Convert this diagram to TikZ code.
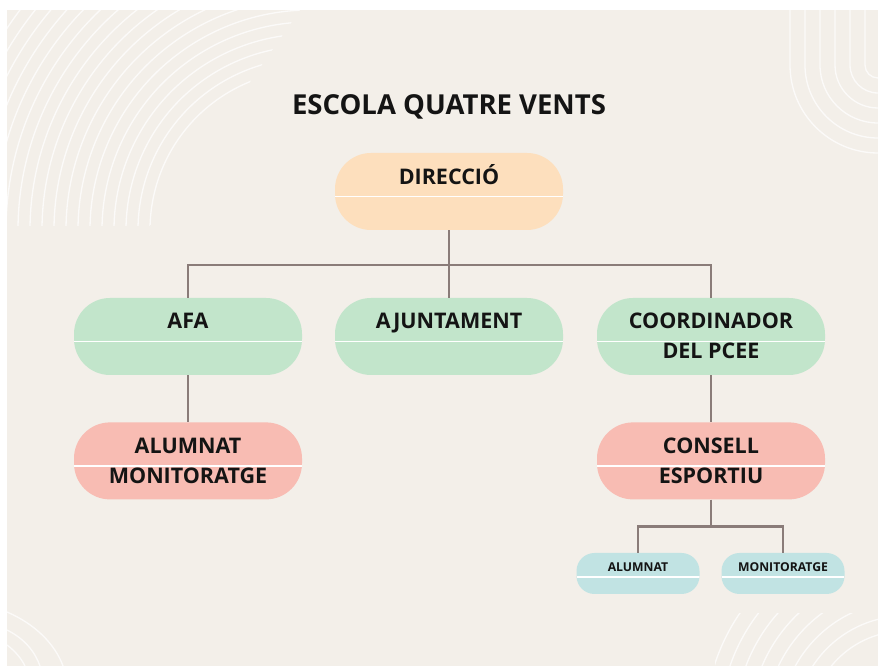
\documentclass[tikz,border=0pt]{standalone}
\usepackage{fontspec}
\setmainfont{Open Sans}
\usetikzlibrary{positioning}
\definecolor{paper}{HTML}{F3EFE9}
\definecolor{peach}{HTML}{FDDFBD}
\definecolor{mint}{HTML}{C2E5CB}
\definecolor{salmon}{HTML}{F8BCB3}
\definecolor{aqua}{HTML}{C1E3E3}
\definecolor{ink}{HTML}{141414}
\definecolor{linkgrey}{HTML}{8A7C79}

\begin{document}
\begin{tikzpicture}[x=1pt,y=1pt,
  box/.style={fill=#1,rounded corners=36pt,minimum width=228pt,minimum height=77pt,inner sep=0pt,
    path picture={\draw[white,line width=1.6pt] ([yshift=-5pt]path picture bounding box.west) -- ([yshift=-5pt]path picture bounding box.east);}},
  minibox/.style={box=#1,rounded corners=18pt,minimum width=123pt,minimum height=41pt,
    path picture={\draw[white,line width=1.4pt] ([yshift=-3.5pt]path picture bounding box.west) -- ([yshift=-3.5pt]path picture bounding box.east);}},
  boxtext/.style={anchor=base,inner sep=0pt,text=ink,font=\bfseries\fontsize{21.5}{24}\selectfont},
  minitext/.style={boxtext,font=\bfseries\fontsize{12.2}{14}\selectfont},
  link/.style={draw=linkgrey,line width=2.2pt},
  wave/.style={white,line width=1.3pt,opacity=0.75}]

% Background and corner lines
\useasboundingbox (0,0) rectangle (878,666);
\fill[white] (0,0) rectangle (878,666);
\fill[paper] (7,0) rectangle (878,656);
\begin{scope}
  \clip (7,656) -- (300,656) -- (150,440) -- (7,440) -- cycle;
  \foreach \r in {160,172,...,380}
    \draw[wave] (310,436) ++(90:\r) arc (90:200:\r);
\end{scope}
\foreach \x [evaluate=\x as \r using 878-\x] in {790,805,...,865}
  \draw[wave] (\x,656) -- (\x,601) arc (180:270:\r);
\draw[wave] (7,54) .. controls (35,42) and (55,22) .. (63,0);
\draw[wave] (7,36) .. controls (25,27) and (35,14) .. (40,0);
\draw[wave] (7,21) .. controls (15,15) and (21,8) .. (25,0);
\begin{scope}
  \clip (715,0) rectangle (878,52);
  \foreach \r in {95,110,...,200}
    \draw[wave] (905,-60) ++(90:\r) arc (90:180:\r);
\end{scope}

% Title
\node[anchor=base,text=ink,font=\bfseries\fontsize{27.5}{30}\selectfont] (title) at (449,551) {ESCOLA QUATRE VENTS};

% Boxes
\node[box=peach] (direccio) at (449,474.5) {};
\node[box=mint] (afa) at (188,329.5) {};
\node[box=mint] (ajuntament) at (449,329.5) {};
\node[box=mint] (coordinador) at (711,329.5) {};
\node[box=salmon, below=47pt of afa] (alumnat) {};
\node[box=salmon, below=47pt of coordinador] (consell) {};
\node[minibox=aqua] (alumnes) at (638,92.5) {};
\node[minibox=aqua] (monitors) at (783,92.5) {};

% Box texts
\node[boxtext] (direccio-t) at ([yshift=6.5pt]direccio.center) {DIRECCIÓ};
\foreach \n/\t in {afa/AFA,ajuntament/AJUNTAMENT,coordinador/COORDINADOR,alumnat/ALUMNAT,consell/CONSELL}
  \node[boxtext] (\n-t) at ([yshift=7.5pt]\n.center) {\t};
\foreach \n/\t in {coordinador/DEL PCEE,alumnat/MONITORATGE,consell/ESPORTIU}
  \node[boxtext] (\n-u) at ([yshift=-22.5pt]\n.center) {\t};
\node[minitext] (alumnes-t) at ([yshift=2pt]alumnes.center) {ALUMNAT};
\node[minitext] (monitors-t) at ([yshift=2pt]monitors.center) {MONITORATGE};

% Connectors
\coordinate (split) at (449,401);
\coordinate (split2) at (711,139.5);
\draw[link] (direccio.south) -- (split);
\draw[link] (split) -| (afa.north);
\draw[link] (split) -| (coordinador.north);
\draw[link] (split) -- (ajuntament.north);
\draw[link] (afa.south) -- (alumnat.north);
\draw[link] (coordinador.south) -- (consell.north);
\draw[link] (consell.south) -- (split2);
\draw[link] (split2) -| (alumnes.north);
\draw[link] (split2) -| (monitors.north);
\end{tikzpicture}
\end{document}
